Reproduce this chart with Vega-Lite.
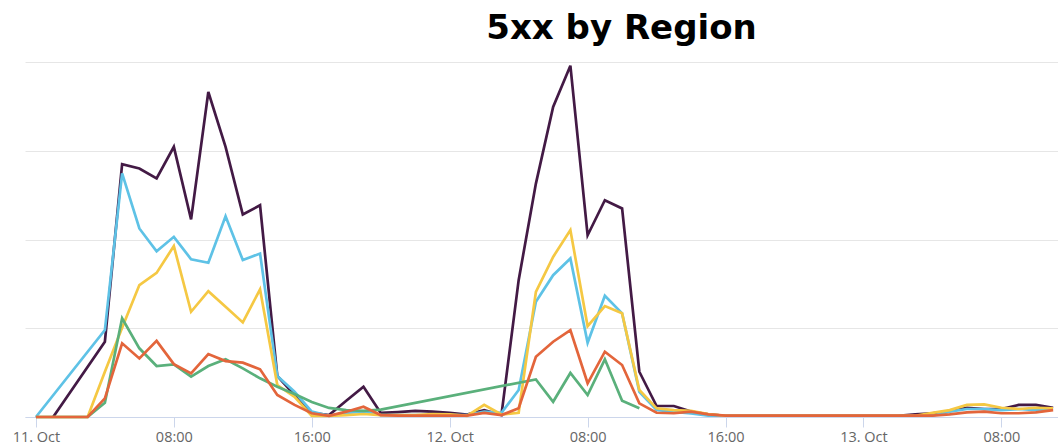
{
  "$schema": "https://vega.github.io/schema/vega-lite/v6.json",
  "width": 1033,
  "height": 355,
  "autosize": {"type": "none"},
  "padding": {"left": 25, "top": 62, "right": 0, "bottom": 30},
  "background": "white",
  "title": {"text": "5xx by Region", "font": "DejaVu Sans", "fontSize": 34, "fontWeight": "bold", "color": "#000000", "anchor": "middle", "dx": 80, "offset": 14},
  "config": {"view": {"stroke": null}},
  "data": {"values": [
    {"t":"2023-10-11T01:00Z","r":"Region 1","v":0},
    {"t":"2023-10-11T04:00Z","r":"Region 1","v":42.4},
    {"t":"2023-10-11T05:00Z","r":"Region 1","v":142.4},
    {"t":"2023-10-11T06:00Z","r":"Region 1","v":140.0},
    {"t":"2023-10-11T07:00Z","r":"Region 1","v":134.4},
    {"t":"2023-10-11T08:00Z","r":"Region 1","v":152.2},
    {"t":"2023-10-11T09:00Z","r":"Region 1","v":111.3},
    {"t":"2023-10-11T10:00Z","r":"Region 1","v":183.1},
    {"t":"2023-10-11T11:00Z","r":"Region 1","v":152.2},
    {"t":"2023-10-11T12:00Z","r":"Region 1","v":114.1},
    {"t":"2023-10-11T13:00Z","r":"Region 1","v":119.3},
    {"t":"2023-10-11T14:00Z","r":"Region 1","v":23.1},
    {"t":"2023-10-11T15:00Z","r":"Region 1","v":12.4},
    {"t":"2023-10-11T16:00Z","r":"Region 1","v":2.4},
    {"t":"2023-10-11T17:00Z","r":"Region 1","v":1.1},
    {"t":"2023-10-11T18:00Z","r":"Region 1","v":9.2},
    {"t":"2023-10-11T19:00Z","r":"Region 1","v":17.1},
    {"t":"2023-10-11T20:00Z","r":"Region 1","v":2.3},
    {"t":"2023-10-11T21:00Z","r":"Region 1","v":2.8},
    {"t":"2023-10-11T22:00Z","r":"Region 1","v":3.4},
    {"t":"2023-10-11T23:00Z","r":"Region 1","v":3.0},
    {"t":"2023-10-12T00:00Z","r":"Region 1","v":2.3},
    {"t":"2023-10-12T01:00Z","r":"Region 1","v":1.4},
    {"t":"2023-10-12T02:00Z","r":"Region 1","v":3.9},
    {"t":"2023-10-12T03:00Z","r":"Region 1","v":1.1},
    {"t":"2023-10-12T04:00Z","r":"Region 1","v":77.1},
    {"t":"2023-10-12T05:00Z","r":"Region 1","v":131.5},
    {"t":"2023-10-12T06:00Z","r":"Region 1","v":174.7},
    {"t":"2023-10-12T07:00Z","r":"Region 1","v":197.9},
    {"t":"2023-10-12T08:00Z","r":"Region 1","v":102.4},
    {"t":"2023-10-12T09:00Z","r":"Region 1","v":122.1},
    {"t":"2023-10-12T10:00Z","r":"Region 1","v":117.5},
    {"t":"2023-10-12T11:00Z","r":"Region 1","v":25.5},
    {"t":"2023-10-12T12:00Z","r":"Region 1","v":6.2},
    {"t":"2023-10-12T13:00Z","r":"Region 1","v":6.2},
    {"t":"2023-10-12T14:00Z","r":"Region 1","v":3.1},
    {"t":"2023-10-12T15:00Z","r":"Region 1","v":1.5},
    {"t":"2023-10-12T16:00Z","r":"Region 1","v":0.7},
    {"t":"2023-10-12T17:00Z","r":"Region 1","v":0.7},
    {"t":"2023-10-12T18:00Z","r":"Region 1","v":0.7},
    {"t":"2023-10-12T19:00Z","r":"Region 1","v":0.7},
    {"t":"2023-10-12T20:00Z","r":"Region 1","v":0.7},
    {"t":"2023-10-12T21:00Z","r":"Region 1","v":0.7},
    {"t":"2023-10-12T22:00Z","r":"Region 1","v":0.7},
    {"t":"2023-10-12T23:00Z","r":"Region 1","v":0.7},
    {"t":"2023-10-13T00:00Z","r":"Region 1","v":0.7},
    {"t":"2023-10-13T01:00Z","r":"Region 1","v":0.7},
    {"t":"2023-10-13T02:00Z","r":"Region 1","v":0.7},
    {"t":"2023-10-13T03:00Z","r":"Region 1","v":1.5},
    {"t":"2023-10-13T04:00Z","r":"Region 1","v":2.1},
    {"t":"2023-10-13T05:00Z","r":"Region 1","v":3.4},
    {"t":"2023-10-13T06:00Z","r":"Region 1","v":5.2},
    {"t":"2023-10-13T07:00Z","r":"Region 1","v":4.5},
    {"t":"2023-10-13T08:00Z","r":"Region 1","v":4.5},
    {"t":"2023-10-13T09:00Z","r":"Region 1","v":6.8},
    {"t":"2023-10-13T10:00Z","r":"Region 1","v":6.8},
    {"t":"2023-10-13T11:00Z","r":"Region 1","v":5.2},

    {"t":"2023-10-11T00:00Z","r":"Region 2","v":0},
    {"t":"2023-10-11T04:00Z","r":"Region 2","v":49.0},
    {"t":"2023-10-11T05:00Z","r":"Region 2","v":137.2},
    {"t":"2023-10-11T06:00Z","r":"Region 2","v":106.2},
    {"t":"2023-10-11T07:00Z","r":"Region 2","v":93.4},
    {"t":"2023-10-11T08:00Z","r":"Region 2","v":101.5},
    {"t":"2023-10-11T09:00Z","r":"Region 2","v":88.9},
    {"t":"2023-10-11T10:00Z","r":"Region 2","v":86.9},
    {"t":"2023-10-11T11:00Z","r":"Region 2","v":113.1},
    {"t":"2023-10-11T12:00Z","r":"Region 2","v":88.4},
    {"t":"2023-10-11T13:00Z","r":"Region 2","v":92.1},
    {"t":"2023-10-11T14:00Z","r":"Region 2","v":23.1},
    {"t":"2023-10-11T15:00Z","r":"Region 2","v":14.2},
    {"t":"2023-10-11T16:00Z","r":"Region 2","v":3.0},
    {"t":"2023-10-11T17:00Z","r":"Region 2","v":0.6},
    {"t":"2023-10-11T18:00Z","r":"Region 2","v":2.3},
    {"t":"2023-10-11T19:00Z","r":"Region 2","v":3.0},
    {"t":"2023-10-11T20:00Z","r":"Region 2","v":1.1},
    {"t":"2023-10-11T21:00Z","r":"Region 2","v":1.1},
    {"t":"2023-10-11T22:00Z","r":"Region 2","v":1.1},
    {"t":"2023-10-11T23:00Z","r":"Region 2","v":1.1},
    {"t":"2023-10-12T00:00Z","r":"Region 2","v":1.1},
    {"t":"2023-10-12T01:00Z","r":"Region 2","v":1.1},
    {"t":"2023-10-12T02:00Z","r":"Region 2","v":3.0},
    {"t":"2023-10-12T03:00Z","r":"Region 2","v":2.3},
    {"t":"2023-10-12T04:00Z","r":"Region 2","v":15.2},
    {"t":"2023-10-12T05:00Z","r":"Region 2","v":64.9},
    {"t":"2023-10-12T06:00Z","r":"Region 2","v":79.9},
    {"t":"2023-10-12T07:00Z","r":"Region 2","v":89.3},
    {"t":"2023-10-12T08:00Z","r":"Region 2","v":41.8},
    {"t":"2023-10-12T09:00Z","r":"Region 2","v":68.3},
    {"t":"2023-10-12T10:00Z","r":"Region 2","v":58.4},
    {"t":"2023-10-12T11:00Z","r":"Region 2","v":14.2},
    {"t":"2023-10-12T12:00Z","r":"Region 2","v":3.9},
    {"t":"2023-10-12T13:00Z","r":"Region 2","v":2.8},
    {"t":"2023-10-12T14:00Z","r":"Region 2","v":2.0},
    {"t":"2023-10-12T15:00Z","r":"Region 2","v":0.7},
    {"t":"2023-10-12T16:00Z","r":"Region 2","v":0.7},
    {"t":"2023-10-12T17:00Z","r":"Region 2","v":0.7},
    {"t":"2023-10-12T18:00Z","r":"Region 2","v":0.7},
    {"t":"2023-10-12T19:00Z","r":"Region 2","v":0.7},
    {"t":"2023-10-12T20:00Z","r":"Region 2","v":0.7},
    {"t":"2023-10-12T21:00Z","r":"Region 2","v":0.7},
    {"t":"2023-10-12T22:00Z","r":"Region 2","v":0.7},
    {"t":"2023-10-12T23:00Z","r":"Region 2","v":0.7},
    {"t":"2023-10-13T00:00Z","r":"Region 2","v":0.7},
    {"t":"2023-10-13T01:00Z","r":"Region 2","v":0.7},
    {"t":"2023-10-13T02:00Z","r":"Region 2","v":0.7},
    {"t":"2023-10-13T03:00Z","r":"Region 2","v":0.7},
    {"t":"2023-10-13T04:00Z","r":"Region 2","v":0.7},
    {"t":"2023-10-13T05:00Z","r":"Region 2","v":3.0},
    {"t":"2023-10-13T06:00Z","r":"Region 2","v":4.5},
    {"t":"2023-10-13T07:00Z","r":"Region 2","v":4.5},
    {"t":"2023-10-13T08:00Z","r":"Region 2","v":3.9},
    {"t":"2023-10-13T09:00Z","r":"Region 2","v":4.5},
    {"t":"2023-10-13T10:00Z","r":"Region 2","v":3.9},
    {"t":"2023-10-13T11:00Z","r":"Region 2","v":4.5},

    {"t":"2023-10-11T00:00Z","r":"Region 3","v":0},
    {"t":"2023-10-11T01:00Z","r":"Region 3","v":0},
    {"t":"2023-10-11T02:00Z","r":"Region 3","v":0},
    {"t":"2023-10-11T03:00Z","r":"Region 3","v":0},
    {"t":"2023-10-11T04:00Z","r":"Region 3","v":25.5},
    {"t":"2023-10-11T05:00Z","r":"Region 3","v":50.3},
    {"t":"2023-10-11T06:00Z","r":"Region 3","v":74.3},
    {"t":"2023-10-11T07:00Z","r":"Region 3","v":81.2},
    {"t":"2023-10-11T08:00Z","r":"Region 3","v":96.3},
    {"t":"2023-10-11T09:00Z","r":"Region 3","v":59.3},
    {"t":"2023-10-11T10:00Z","r":"Region 3","v":70.9},
    {"t":"2023-10-11T11:00Z","r":"Region 3","v":62.1},
    {"t":"2023-10-11T12:00Z","r":"Region 3","v":53.3},
    {"t":"2023-10-11T13:00Z","r":"Region 3","v":71.9},
    {"t":"2023-10-11T14:00Z","r":"Region 3","v":18.0},
    {"t":"2023-10-11T15:00Z","r":"Region 3","v":11.4},
    {"t":"2023-10-11T16:00Z","r":"Region 3","v":0.6},
    {"t":"2023-10-11T17:00Z","r":"Region 3","v":0.6},
    {"t":"2023-10-11T18:00Z","r":"Region 3","v":1.1},
    {"t":"2023-10-11T19:00Z","r":"Region 3","v":1.7},
    {"t":"2023-10-11T20:00Z","r":"Region 3","v":1.1},
    {"t":"2023-10-11T21:00Z","r":"Region 3","v":1.1},
    {"t":"2023-10-11T22:00Z","r":"Region 3","v":1.1},
    {"t":"2023-10-11T23:00Z","r":"Region 3","v":1.7},
    {"t":"2023-10-12T00:00Z","r":"Region 3","v":1.5},
    {"t":"2023-10-12T01:00Z","r":"Region 3","v":0.6},
    {"t":"2023-10-12T02:00Z","r":"Region 3","v":6.8},
    {"t":"2023-10-12T03:00Z","r":"Region 3","v":1.4},
    {"t":"2023-10-12T04:00Z","r":"Region 3","v":2.4},
    {"t":"2023-10-12T05:00Z","r":"Region 3","v":70.5},
    {"t":"2023-10-12T06:00Z","r":"Region 3","v":90.2},
    {"t":"2023-10-12T07:00Z","r":"Region 3","v":105.3},
    {"t":"2023-10-12T08:00Z","r":"Region 3","v":51.2},
    {"t":"2023-10-12T09:00Z","r":"Region 3","v":62.5},
    {"t":"2023-10-12T10:00Z","r":"Region 3","v":58.4},
    {"t":"2023-10-12T11:00Z","r":"Region 3","v":15.2},
    {"t":"2023-10-12T12:00Z","r":"Region 3","v":4.9},
    {"t":"2023-10-12T13:00Z","r":"Region 3","v":3.9},
    {"t":"2023-10-12T14:00Z","r":"Region 3","v":3.4},
    {"t":"2023-10-12T15:00Z","r":"Region 3","v":1.7},
    {"t":"2023-10-12T16:00Z","r":"Region 3","v":0.7},
    {"t":"2023-10-12T17:00Z","r":"Region 3","v":0.7},
    {"t":"2023-10-12T18:00Z","r":"Region 3","v":0.7},
    {"t":"2023-10-12T19:00Z","r":"Region 3","v":0.7},
    {"t":"2023-10-12T20:00Z","r":"Region 3","v":0.7},
    {"t":"2023-10-12T21:00Z","r":"Region 3","v":0.7},
    {"t":"2023-10-12T22:00Z","r":"Region 3","v":0.7},
    {"t":"2023-10-12T23:00Z","r":"Region 3","v":0.7},
    {"t":"2023-10-13T00:00Z","r":"Region 3","v":0.7},
    {"t":"2023-10-13T01:00Z","r":"Region 3","v":0.7},
    {"t":"2023-10-13T02:00Z","r":"Region 3","v":0.7},
    {"t":"2023-10-13T03:00Z","r":"Region 3","v":0.7},
    {"t":"2023-10-13T04:00Z","r":"Region 3","v":2.3},
    {"t":"2023-10-13T05:00Z","r":"Region 3","v":3.9},
    {"t":"2023-10-13T06:00Z","r":"Region 3","v":6.8},
    {"t":"2023-10-13T07:00Z","r":"Region 3","v":7.1},
    {"t":"2023-10-13T08:00Z","r":"Region 3","v":5.2},
    {"t":"2023-10-13T09:00Z","r":"Region 3","v":4.5},
    {"t":"2023-10-13T10:00Z","r":"Region 3","v":5.2},
    {"t":"2023-10-13T11:00Z","r":"Region 3","v":4.9},

    {"t":"2023-10-11T00:00Z","r":"Region 4","v":0},
    {"t":"2023-10-11T01:00Z","r":"Region 4","v":0},
    {"t":"2023-10-11T02:00Z","r":"Region 4","v":0},
    {"t":"2023-10-11T03:00Z","r":"Region 4","v":0},
    {"t":"2023-10-11T04:00Z","r":"Region 4","v":8.0},
    {"t":"2023-10-11T05:00Z","r":"Region 4","v":55.6},
    {"t":"2023-10-11T06:00Z","r":"Region 4","v":38.7},
    {"t":"2023-10-11T07:00Z","r":"Region 4","v":28.7},
    {"t":"2023-10-11T08:00Z","r":"Region 4","v":29.7},
    {"t":"2023-10-11T09:00Z","r":"Region 4","v":22.7},
    {"t":"2023-10-11T10:00Z","r":"Region 4","v":28.7},
    {"t":"2023-10-11T11:00Z","r":"Region 4","v":32.5},
    {"t":"2023-10-11T12:00Z","r":"Region 4","v":27.4},
    {"t":"2023-10-11T13:00Z","r":"Region 4","v":21.8},
    {"t":"2023-10-11T14:00Z","r":"Region 4","v":17.1},
    {"t":"2023-10-11T15:00Z","r":"Region 4","v":12.9},
    {"t":"2023-10-11T16:00Z","r":"Region 4","v":8.5},
    {"t":"2023-10-11T17:00Z","r":"Region 4","v":5.1},
    {"t":"2023-10-11T18:00Z","r":"Region 4","v":3.9},
    {"t":"2023-10-11T19:00Z","r":"Region 4","v":3.4},
    {"t":"2023-10-11T20:00Z","r":"Region 4","v":4.2},
    {"t":"2023-10-12T05:00Z","r":"Region 4","v":21.2},
    {"t":"2023-10-12T06:00Z","r":"Region 4","v":8.6},
    {"t":"2023-10-12T07:00Z","r":"Region 4","v":24.8},
    {"t":"2023-10-12T08:00Z","r":"Region 4","v":12.4},
    {"t":"2023-10-12T09:00Z","r":"Region 4","v":32.5},
    {"t":"2023-10-12T10:00Z","r":"Region 4","v":9.2},
    {"t":"2023-10-12T11:00Z","r":"Region 4","v":4.9},

    {"t":"2023-10-11T00:00Z","r":"Region 5","v":0},
    {"t":"2023-10-11T01:00Z","r":"Region 5","v":0},
    {"t":"2023-10-11T02:00Z","r":"Region 5","v":0},
    {"t":"2023-10-11T03:00Z","r":"Region 5","v":0},
    {"t":"2023-10-11T04:00Z","r":"Region 5","v":10.5},
    {"t":"2023-10-11T05:00Z","r":"Region 5","v":41.5},
    {"t":"2023-10-11T06:00Z","r":"Region 5","v":33.0},
    {"t":"2023-10-11T07:00Z","r":"Region 5","v":42.9},
    {"t":"2023-10-11T08:00Z","r":"Region 5","v":29.8},
    {"t":"2023-10-11T09:00Z","r":"Region 5","v":24.6},
    {"t":"2023-10-11T10:00Z","r":"Region 5","v":35.5},
    {"t":"2023-10-11T11:00Z","r":"Region 5","v":31.5},
    {"t":"2023-10-11T12:00Z","r":"Region 5","v":30.6},
    {"t":"2023-10-11T13:00Z","r":"Region 5","v":26.9},
    {"t":"2023-10-11T14:00Z","r":"Region 5","v":12.4},
    {"t":"2023-10-11T15:00Z","r":"Region 5","v":6.8},
    {"t":"2023-10-11T16:00Z","r":"Region 5","v":2.1},
    {"t":"2023-10-11T17:00Z","r":"Region 5","v":0.6},
    {"t":"2023-10-11T18:00Z","r":"Region 5","v":3.0},
    {"t":"2023-10-11T19:00Z","r":"Region 5","v":5.8},
    {"t":"2023-10-11T20:00Z","r":"Region 5","v":1.1},
    {"t":"2023-10-11T21:00Z","r":"Region 5","v":0.8},
    {"t":"2023-10-11T22:00Z","r":"Region 5","v":0.8},
    {"t":"2023-10-11T23:00Z","r":"Region 5","v":0.8},
    {"t":"2023-10-12T00:00Z","r":"Region 5","v":0.8},
    {"t":"2023-10-12T01:00Z","r":"Region 5","v":0.8},
    {"t":"2023-10-12T02:00Z","r":"Region 5","v":2.3},
    {"t":"2023-10-12T03:00Z","r":"Region 5","v":1.1},
    {"t":"2023-10-12T04:00Z","r":"Region 5","v":4.9},
    {"t":"2023-10-12T05:00Z","r":"Region 5","v":33.9},
    {"t":"2023-10-12T06:00Z","r":"Region 5","v":42.4},
    {"t":"2023-10-12T07:00Z","r":"Region 5","v":49.0},
    {"t":"2023-10-12T08:00Z","r":"Region 5","v":19.0},
    {"t":"2023-10-12T09:00Z","r":"Region 5","v":36.8},
    {"t":"2023-10-12T10:00Z","r":"Region 5","v":29.3},
    {"t":"2023-10-12T11:00Z","r":"Region 5","v":7.7},
    {"t":"2023-10-12T12:00Z","r":"Region 5","v":2.4},
    {"t":"2023-10-12T13:00Z","r":"Region 5","v":2.1},
    {"t":"2023-10-12T14:00Z","r":"Region 5","v":3.0},
    {"t":"2023-10-12T15:00Z","r":"Region 5","v":1.5},
    {"t":"2023-10-12T16:00Z","r":"Region 5","v":0.8},
    {"t":"2023-10-12T17:00Z","r":"Region 5","v":0.8},
    {"t":"2023-10-12T18:00Z","r":"Region 5","v":0.8},
    {"t":"2023-10-12T19:00Z","r":"Region 5","v":0.8},
    {"t":"2023-10-12T20:00Z","r":"Region 5","v":0.8},
    {"t":"2023-10-12T21:00Z","r":"Region 5","v":0.8},
    {"t":"2023-10-12T22:00Z","r":"Region 5","v":0.8},
    {"t":"2023-10-12T23:00Z","r":"Region 5","v":0.8},
    {"t":"2023-10-13T00:00Z","r":"Region 5","v":0.8},
    {"t":"2023-10-13T01:00Z","r":"Region 5","v":0.8},
    {"t":"2023-10-13T02:00Z","r":"Region 5","v":0.8},
    {"t":"2023-10-13T03:00Z","r":"Region 5","v":0.8},
    {"t":"2023-10-13T04:00Z","r":"Region 5","v":0.8},
    {"t":"2023-10-13T05:00Z","r":"Region 5","v":1.5},
    {"t":"2023-10-13T06:00Z","r":"Region 5","v":2.6},
    {"t":"2023-10-13T07:00Z","r":"Region 5","v":3.0},
    {"t":"2023-10-13T08:00Z","r":"Region 5","v":2.1},
    {"t":"2023-10-13T09:00Z","r":"Region 5","v":2.1},
    {"t":"2023-10-13T10:00Z","r":"Region 5","v":2.6},
    {"t":"2023-10-13T11:00Z","r":"Region 5","v":3.9}
  ]},
  "mark": {"type": "line", "strokeWidth": 2.7, "interpolate": "linear"},
  "encoding": {
    "x": {
      "field": "t", "type": "temporal",
      "scale": {"type": "utc", "domain": [
        {"year": 2023, "month": 10, "date": 10, "hours": 23, "minutes": 22, "utc": true},
        {"year": 2023, "month": 10, "date": 13, "hours": 11, "minutes": 17, "utc": true}
      ]},
      "axis": {
        "title": null,
        "values": [
          {"year": 2023, "month": 10, "date": 11, "hours": 0, "utc": true},
          {"year": 2023, "month": 10, "date": 11, "hours": 8, "utc": true},
          {"year": 2023, "month": 10, "date": 11, "hours": 16, "utc": true},
          {"year": 2023, "month": 10, "date": 12, "hours": 0, "utc": true},
          {"year": 2023, "month": 10, "date": 12, "hours": 8, "utc": true},
          {"year": 2023, "month": 10, "date": 12, "hours": 16, "utc": true},
          {"year": 2023, "month": 10, "date": 13, "hours": 0, "utc": true},
          {"year": 2023, "month": 10, "date": 13, "hours": 8, "utc": true}
        ],
        "labelExpr": "utcFormat(datum.value, '%H') == '00' ? utcFormat(datum.value, '%-d. %b') : utcFormat(datum.value, '%H:%M')",
        "grid": false,
        "domainColor": "#ccd6eb",
        "domainWidth": 1,
        "tickColor": "#ccd6eb",
        "tickSize": 10,
        "labelFont": "Open Sans",
        "labelFontSize": 14.5,
        "labelColor": "#666666",
        "labelPadding": 3,
        "labelFlush": false,
        "labelOverlap": false
      }
    },
    "y": {
      "field": "v", "type": "quantitative",
      "scale": {"domain": [0, 200], "nice": false},
      "axis": {"title": null, "values": [0, 50, 100, 150, 200], "labels": false, "ticks": false, "domain": false, "grid": true, "gridColor": "#e6e6e6", "gridWidth": 1}
    },
    "color": {
      "field": "r", "type": "nominal",
      "scale": {"domain": ["Region 1", "Region 2", "Region 3", "Region 4", "Region 5"], "range": ["#431a45", "#5ec2e6", "#f5c843", "#5ab07b", "#e3653b"]},
      "legend": null
    }
  }
}
